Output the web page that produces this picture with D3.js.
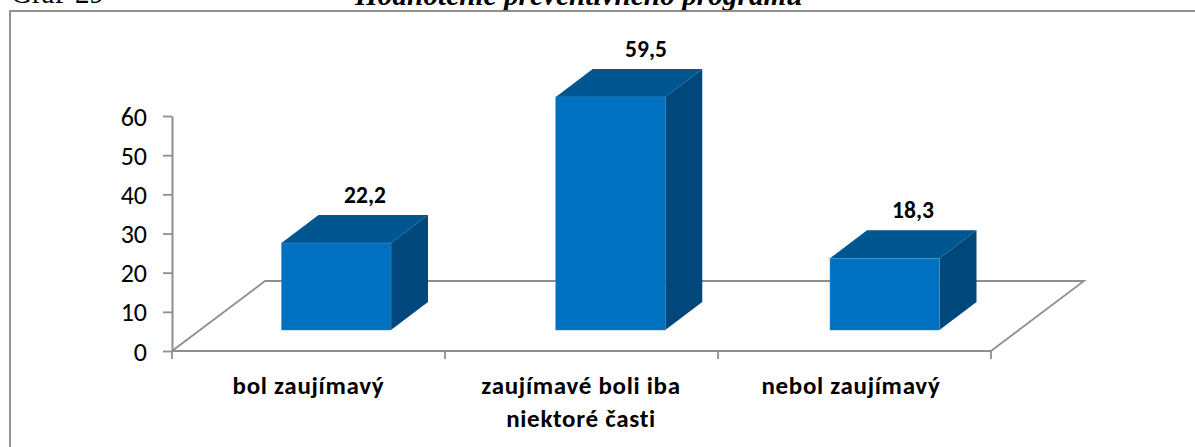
<!DOCTYPE html>
<html><head><meta charset="utf-8">
<script src="https://cdn.jsdelivr.net/npm/d3@7"></script>
<style>html,body{margin:0;padding:0;background:#fff}svg{display:block}</style>
</head><body><svg id="c" width="1195" height="447"></svg>
<script>
const categories = ["bol zaujímavý", "zaujímavé boli iba niektoré časti", "nebol zaujímavý"];
const labelLines = [["bol zaujímavý"], ["zaujímavé boli iba", "niektoré časti"], ["nebol zaujímavý"]];
const values = [22.2, 59.5, 18.3];
const valueLabels = ["22,2", "59,5", "18,3"];
const yTicks = [0, 10, 20, 30, 40, 50, 60];

const svg = d3.select("#c");
const font = "Carlito, Calibri, 'Open Sans', 'Noto Sans', sans-serif";
const axisCol = "#8e8e8e";

// caption above the frame (clipped by the window edge in the reference)
const capFont = "'Liberation Serif'";
svg.append("text").attr("x", 11).attr("y", 3).attr("font-family", capFont).attr("font-size", 29).text("Graf");
svg.append("text").attr("x", 75).attr("y", 3).attr("font-family", capFont).attr("font-size", 29).text("29");
svg.append("text").attr("x", 355).attr("y", 4.5).attr("font-family", capFont).attr("font-size", 29.3)
  .attr("font-weight", "bold").attr("font-style", "italic").text("Hodnotenie preventívneho programu");

svg.append("rect").attr("x", 10).attr("y", 11).attr("width", 1200).attr("height", 450)
  .attr("fill", "none").attr("stroke", "#868686").attr("stroke-width", 1.8);

const x = d3.scaleBand().domain(categories).range([172, 991]);
const y = d3.scaleLinear().domain([0, 60]).range([351, 116]);
const barX = d3.scalePoint().domain(categories).range([281.5, 830]);
const labelX = d3.scaleOrdinal().domain(categories).range([365, 646, 913]);
const catX = d3.scaleOrdinal().domain(categories).range([308.5, 581, 851]);
const dx = 93, dy = -70;          // floor depth
const barW = 109.5, bdx = 37, bdy = -28; // bar depth
const baseY = 330;
const h = v => y(0) - y(v);

// floor
svg.append("path").attr("fill", "none").attr("stroke", axisCol).attr("stroke-width", 1.8)
  .attr("d", d3.line()([[172, 351], [172 + dx, 351 + dy], [991 + dx, 351 + dy], [991, 351]]));

// axes
const ay = svg.append("g").attr("transform", "translate(172,0)")
  .call(d3.axisLeft(y).tickValues(yTicks).tickSize(9).tickPadding(16).tickSizeOuter(0));
svg.append("line").attr("x1", 172).attr("x2", 991).attr("y1", 351).attr("y2", 351).attr("stroke", axisCol).attr("stroke-width", 2);
[...categories.map(c => x(c)), 991].forEach(p => svg.append("line").attr("x1", p).attr("x2", p).attr("y1", 351).attr("y2", 359).attr("stroke", axisCol).attr("stroke-width", 1.8));
ay.select(".domain").attr("stroke", axisCol).attr("stroke-width", 2);
ay.selectAll(".tick line").attr("stroke", axisCol).attr("stroke-width", 1.8);
ay.selectAll(".tick text").attr("font-family", font).attr("font-size", 26).attr("fill", "#000").attr("dy", "0.35em");

// bars
const g = svg.selectAll(".bar").data(values).join("g").attr("class", "bar");
const bx = (d, i) => barX(categories[i]);
const edge = "#3f93d2";
g.append("path").attr("fill", "#005690").attr("d", (d, i) => {
  const l = bx(d, i), t = baseY - h(d);
  return d3.line()([[l, t], [l + bdx, t + bdy], [l + barW + bdx, t + bdy], [l + barW, t]]) + "Z";
});
g.append("path").attr("fill", "#00487c").attr("d", (d, i) => {
  const r = bx(d, i) + barW, t = baseY - h(d);
  return d3.line()([[r, t], [r + bdx, t + bdy], [r + bdx, baseY + bdy], [r, baseY]]) + "Z";
});
g.append("rect").attr("fill", "#0070c0").attr("stroke", edge).attr("stroke-width", 0.5)
  .attr("x", bx).attr("y", d => baseY - h(d)).attr("width", barW).attr("height", h);
g.append("text").attr("x", (d, i) => labelX(categories[i])).attr("y", d => baseY - h(d) - 40)
  .attr("text-anchor", "middle").attr("font-family", font).attr("font-weight", "bold").attr("font-size", 23.5).text((d, i) => valueLabels[i]);

// category labels
labelLines.forEach((lines, i) => lines.forEach((t, j) => {
  svg.append("text").attr("x", catX(categories[i])).attr("y", 393.5 + j * 33.5)
    .attr("text-anchor", "middle").attr("font-family", font).attr("font-weight", "bold").attr("font-size", 25).attr("letter-spacing", 0.7).text(t);
}));
</script></body></html>
